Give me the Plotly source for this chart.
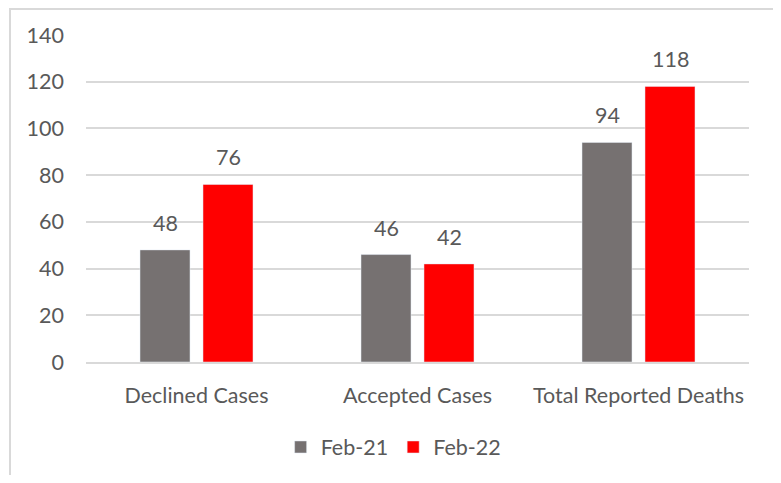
import plotly.graph_objects as go

categories = ["Declined Cases", "Accepted Cases", "Total Reported Deaths"]
feb21 = [48, 46, 94]
feb22 = [76, 42, 118]
y_ticks = [0, 20, 40, 60, 80, 100, 120, 140]

FONT = "Lato, Calibri, Carlito, sans-serif"
TXT = "#595959"
FS = 21.5

fig = go.Figure()
fig.add_bar(name="Feb-21", x=categories, y=feb21, marker_color="#767171")
fig.add_bar(name="Feb-22", x=categories, y=feb22, marker_color="#FF0000")

# page body has an 8px margin; compensate (and avoid a vertical scrollbar)
OFF = 8
W, H = 781 - OFF, 483 - 2 * OFF
L, R, T = 86 - OFF, 32, 35 - OFF
ph = 327
B = H - T - ph
pw = W - L - R

# data labels above each bar (group offset = +-31.5 px)
annotations = []
for vals, dx in ((feb21, -31.5), (feb22, 31.5)):
    for c, v in zip(categories, vals):
        annotations.append(dict(x=c, y=v, xref="x", yref="y", text=str(v),
                                showarrow=False, yanchor="bottom", xanchor="center",
                                xshift=dx, yshift=12,
                                font=dict(size=FS, color=TXT, family=FONT)))

fig.update_layout(
    width=W, height=H,
    margin=dict(l=L, r=R, t=T, b=B, pad=0, autoexpand=False),
    paper_bgcolor="white", plot_bgcolor="white",
    barmode="group", bargap=0.43, bargroupgap=0.206,
    font=dict(family=FONT, size=FS, color=TXT),
    showlegend=True,
    legend=dict(orientation="h", x=0.464, xanchor="center",
                yref="container", y=1 - (447 - OFF) / H, yanchor="middle",
                font=dict(size=FS, color=TXT, family=FONT), itemwidth=30,
                traceorder="normal"),
    annotations=annotations,
    shapes=[dict(type="rect", xref="paper", yref="paper",
                 x0=(10 - 86) / pw, x1=(776 - 86) / pw,
                 y0=(ph - 500) / ph, y1=(ph + T - 1) / ph,
                 line=dict(color="#d9d9d9", width=2), fillcolor="rgba(0,0,0,0)",
                 layer="below")],
)
fig.update_xaxes(showgrid=False, showline=True, linecolor="#d9d9d9", linewidth=1.5,
                 ticks="", ticklabelstandoff=13,
                 tickfont=dict(size=FS, color=TXT, family=FONT))
fig.update_yaxes(range=[0, 140], tickvals=y_ticks, showgrid=True, gridcolor="#d9d9d9",
                 gridwidth=1.5, zeroline=False, showline=False, ticks="",
                 ticklabelstandoff=21,
                 tickfont=dict(size=FS, color=TXT, family=FONT))

fig.write_html("out.html")
